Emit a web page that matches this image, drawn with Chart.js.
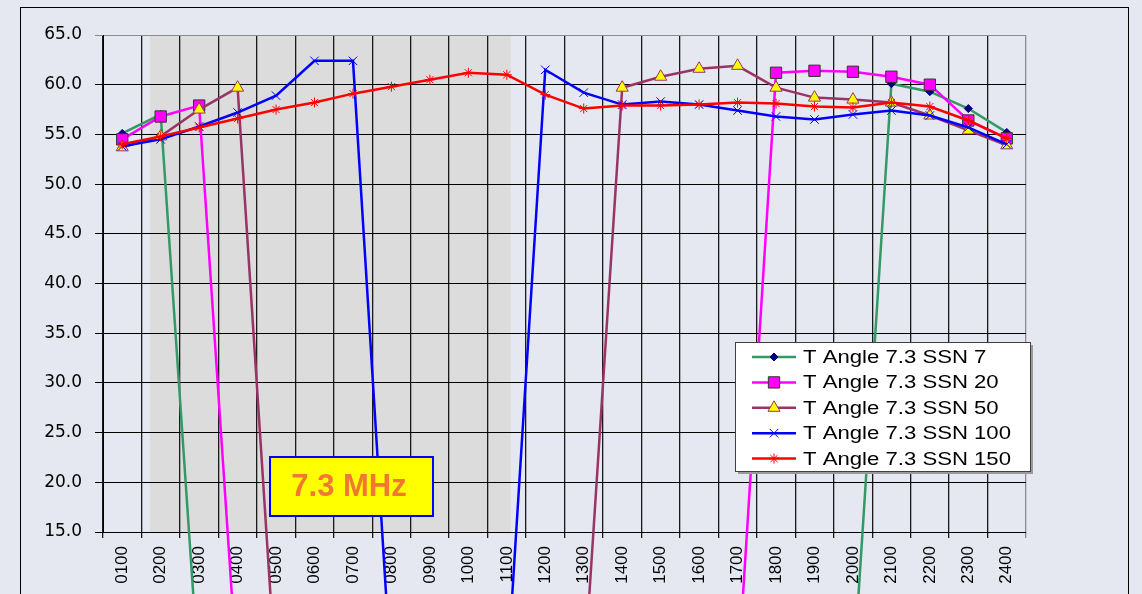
<!DOCTYPE html>
<html>
<head>
<meta charset="utf-8">
<script src="https://cdn.jsdelivr.net/npm/chart.js@4.4.1/dist/chart.umd.min.js"></script>
<style>
  html, body { margin: 0; padding: 0; background: #e5e8f0; }
  #wrap { width: 1142px; height: 594px; }
</style>
</head>
<body>
<div id="wrap"><canvas id="angleChart" width="1142" height="594"></canvas></div>
<script>
// Horas (UTC) e ângulos de chegada por SSN - 0 = sem propagação
const hours = ['0100', '0200', '0300', '0400', '0500', '0600', '0700', '0800', '0900', '1000', '1100', '1200',
               '1300', '1400', '1500', '1600', '1700', '1800', '1900', '2000', '2100', '2200', '2300', '2400'];

const ssn7 = [55.1, 57.0, 0, 0, 0, 0, 0, 0, 0, 0, 0, 0,
              0, 0, 0, 0, 0, 0, 0, 0, 60.1, 59.3, 57.6, 55.2];
const ssn20 = [54.5, 56.8, 57.9, 0, 0, 0, 0, 0, 0, 0, 0, 0,
               0, 0, 0, 0, 0, 61.2, 61.4, 61.3, 60.8, 60.0, 56.4, 54.6];
const ssn50 = [53.7, 54.8, 57.5, 59.7, 0, 0, 0, 0, 0, 0, 0, 0,
               0, 59.7, 60.8, 61.6, 61.9, 59.7, 58.7, 58.5, 58.2, 56.9, 55.4, 53.9];
const ssn100 = [53.8, 54.5, 55.8, 57.2, 58.9, 62.4, 62.4, 0, 0, 0, 0, 61.5,
                59.2, 58.0, 58.3, 58.0, 57.4, 56.8, 56.5, 57.0, 57.4, 56.9, 55.7, 54.0];
const ssn150 = [54.0, 54.8, 55.7, 56.6, 57.5, 58.2, 59.1, 59.8, 60.5, 61.2, 61.0, 59.0,
                57.6, 57.9, 57.9, 58.0, 58.2, 58.1, 57.8, 57.7, 58.2, 57.8, 56.4, 54.6];

const seriesNames = ['T Angle 7.3 SSN 7', 'T Angle 7.3 SSN 20', 'T Angle 7.3 SSN 50',
                     'T Angle 7.3 SSN 100', 'T Angle 7.3 SSN 150'];
const yTicks = [15, 20, 25, 30, 35, 40, 45, 50, 55, 60, 65];

// Faixa sombreada (noite no caminho), em horas
const shadeFrom = 1.72;
const shadeTo = 11.1;

const FONT = "'Liberation Sans', Arial, sans-serif";

document.addEventListener('DOMContentLoaded', function() {
    initChart();
});

function makeDataset(label, data, color, style, radius, fill, border, order) {
    return {
        label: label,
        data: data,
        borderColor: color,
        backgroundColor: color,
        borderWidth: 2.5,
        pointStyle: style,
        pointRadius: radius,
        pointHoverRadius: radius,
        pointBackgroundColor: fill,
        pointBorderColor: border,
        pointBorderWidth: 1,
        tension: 0,
        clip: false,
        order: order
    };
}

// Fundo, moldura e faixa cinza
const backgroundPlugin = {
    id: 'backgroundPlugin',
    beforeDraw(chart) {
        const ctx = chart.ctx;
        const area = chart.chartArea;
        const x = chart.scales.x;
        ctx.save();
        ctx.fillStyle = '#e5e8f0';
        ctx.fillRect(0, 0, chart.width, chart.height);
        ctx.strokeStyle = '#000';
        ctx.lineWidth = 1;
        ctx.strokeRect(20.5, 7.5, 1108, 600);
        const x0 = x.getPixelForValue(shadeFrom - 1);
        const x1 = x.getPixelForValue(shadeTo - 1);
        ctx.fillStyle = '#dcdcdc';
        ctx.fillRect(x0, area.top, x1 - x0, area.bottom - area.top);
        ctx.restore();
    }
};

// Legenda dentro do gráfico + caixa "7.3 MHz"
const legendPlugin = {
    id: 'legendPlugin',
    afterDraw(chart) {
        const ctx = chart.ctx;
        ctx.save();
        ctx.fillStyle = '#9a9a9a';
        ctx.fillRect(738, 345, 295, 129);
        ctx.fillStyle = '#ffffff';
        ctx.fillRect(735, 342, 295, 129);
        ctx.strokeStyle = '#404040';
        ctx.lineWidth = 1;
        ctx.strokeRect(735.5, 342.5, 295, 129);

        chart.data.datasets.forEach(function(ds, i) {
            const y = 357 + i * 25.4;
            ctx.strokeStyle = ds.borderColor;
            ctx.lineWidth = 2.5;
            ctx.beginPath();
            ctx.moveTo(752, y);
            ctx.lineTo(796, y);
            ctx.stroke();
            ctx.fillStyle = ds.pointBackgroundColor;
            ctx.strokeStyle = ds.pointBorderColor;
            ctx.lineWidth = 1;
            if (Chart.helpers && Chart.helpers.drawPoint) {
                Chart.helpers.drawPoint(ctx, {
                    pointStyle: ds.pointStyle,
                    radius: ds.pointRadius,
                    borderWidth: 1,
                    rotation: 0
                }, 774, y);
            }
            ctx.save();
            ctx.translate(803, y);
            ctx.scale(1.23, 1);
            ctx.fillStyle = '#000';
            ctx.font = '18px ' + FONT;
            ctx.textBaseline = 'middle';
            ctx.textAlign = 'left';
            ctx.fillText(ds.label, 0, 1);
            ctx.restore();
        });

        // Caixa da frequência
        ctx.fillStyle = '#ffff00';
        ctx.fillRect(270, 457, 163, 59);
        ctx.strokeStyle = '#0000ff';
        ctx.lineWidth = 2;
        ctx.strokeRect(270, 457, 163, 59);
        ctx.fillStyle = '#f07830';
        ctx.font = 'bold 31px ' + FONT;
        ctx.textAlign = 'center';
        ctx.textBaseline = 'middle';
        ctx.fillText('7.3 MHz', 349, 487);
        ctx.restore();
    }
};

function initChart() {
    const ctx = document.getElementById('angleChart').getContext('2d');
    window.angleChart = new Chart(ctx, {
        type: 'line',
        data: {
            labels: hours,
            datasets: [
                makeDataset(seriesNames[0], ssn7, '#339966', 'rectRot', 4, '#000080', '#000080', 5),
                makeDataset(seriesNames[1], ssn20, '#ff00ff', 'rect', 8, '#ff00ff', '#333333', 4),
                makeDataset(seriesNames[2], ssn50, '#993366', 'triangle', 7, '#ffff00', '#993366', 3),
                makeDataset(seriesNames[3], ssn100, '#0000ff', 'crossRot', 6, '#0000ff', '#0000ff', 2),
                makeDataset(seriesNames[4], ssn150, '#ff0000', 'star', 5, '#ff0000', '#ff0000', 1)
            ]
        },
        options: {
            responsive: false,
            animation: false,
            events: [],
            layout: {
                padding: { left: 0, top: 35, right: 116, bottom: 0 }
            },
            plugins: {
                legend: { display: false },
                tooltip: { enabled: false },
                title: { display: false }
            },
            scales: {
                x: {
                    type: 'category',
                    offset: true,
                    afterFit: function(scale) { scale.height = 62; },
                    grid: {
                        offset: true,
                        color: function(c) { return c.tick ? '#1a1a1a' : '#8c8c8c'; },
                        lineWidth: 1.3,
                        tickLength: 6,
                        drawTicks: true
                    },
                    border: { color: '#000000', width: 1 },
                    ticks: {
                        autoSkip: false,
                        minRotation: 90,
                        maxRotation: 90,
                        padding: 8,
                        color: '#000000',
                        font: { family: FONT, size: 17 }
                    }
                },
                y: {
                    min: 15,
                    max: 65,
                    afterFit: function(scale) { scale.width = 103; },
                    afterBuildTicks: function(scale) {
                        scale.ticks = yTicks.map(function(v) { return { value: v }; });
                    },
                    grid: {
                        color: function(c) { return (c.tick && c.tick.value === 65) ? '#8c8c8c' : '#000000'; },
                        lineWidth: 1,
                        tickLength: 8
                    },
                    border: { color: '#000000', width: 1 },
                    ticks: {
                        padding: 13,
                        color: '#000000',
                        font: { family: "'DejaVu Sans', " + FONT, size: 17 },
                        callback: function(value) { return Number(value).toFixed(1); }
                    }
                }
            }
        },
        plugins: [backgroundPlugin, legendPlugin]
    });
}
</script>
</body>
</html>
